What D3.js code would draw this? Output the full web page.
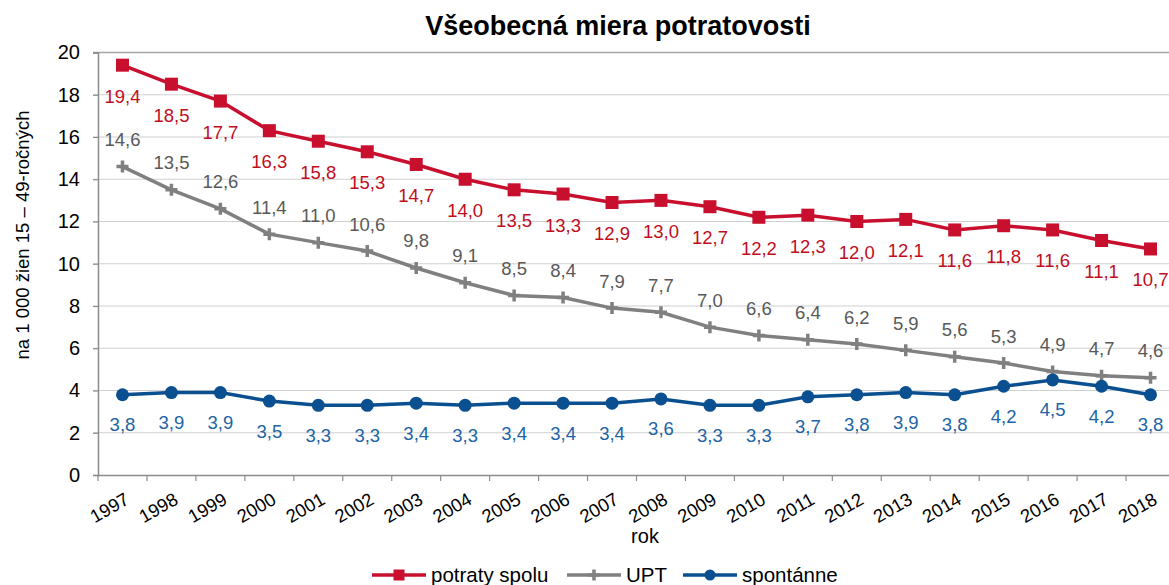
<!DOCTYPE html>
<html>
<head>
<meta charset="utf-8">
<script src="https://cdn.jsdelivr.net/npm/d3@7"></script>
<style>
  body { margin: 0; background: #fff; }
  svg { font-family: "Liberation Sans", Arial, sans-serif; }
</style>
</head>
<body>
<div class="chart"></div>
<script>
// DATA ------------------------------------**
const years = ['1997','1998','1999','2000','2001','2002','2003','2004','2005','2006','2007',
  '2008','2009','2010','2011','2012','2013','2014','2015','2016','2017','2018'];
const spolu = [19.4,18.5,17.7,16.3,15.8,15.3,14.7,14.0,13.5,13.3,12.9,13.0,12.7,12.2,12.3,12.0,12.1,11.6,11.8,11.6,11.1,10.7];
const upt = [14.6,13.5,12.6,11.4,11.0,10.6,9.8,9.1,8.5,8.4,7.9,7.7,7.0,6.6,6.4,6.2,5.9,5.6,5.3,4.9,4.7,4.6];
const spontanne = [3.8,3.9,3.9,3.5,3.3,3.3,3.4,3.3,3.4,3.4,3.4,3.6,3.3,3.3,3.7,3.8,3.9,3.8,4.2,4.5,4.2,3.8];
const yTicks = [0,2,4,6,8,10,12,14,16,18,20];

const series = [
  {name: 'potraty spolu', values: spolu, color: '#c8102e', label: '#c00d1e', marker: 'square', dy: 31},
  {name: 'UPT', values: upt, color: '#808080', label: '#595959', marker: 'plus', dy: -27},
  {name: 'spontánne', values: spontanne, color: '#0a4f8f', label: '#2064a6', marker: 'circle', dy: 30}
];

// CHART INIT ------------------------------**
const W = 1169, H = 585;
const margin = {top: 52.5, right: -6, bottom: 110, left: 98};
const width = W - margin.left - margin.right;
const height = H - margin.top - margin.bottom;

const svg = d3.select('.chart').append('svg')
  .attr('width', W)
  .attr('height', H);

const g = svg.append('g')
  .attr('transform', 'translate(' + margin.left + ',' + margin.top + ')');

const x = d3.scaleBand().domain(years).range([0, width]);
const y = d3.scaleLinear().domain([0, 20]).range([height, 0]);
const cx = d => x(d) + x.bandwidth() / 2;

// gridlines
g.append('g').selectAll('line')
  .data(yTicks.filter(t => t > 0))
  .join('line')
  .attr('x1', -5).attr('x2', width)
  .attr('y1', d => y(d)).attr('y2', d => y(d))
  .attr('stroke', d => d === 20 ? '#a6a6a6' : '#d0d0d0')
  .attr('stroke-width', d => d === 20 ? 1.5 : 1.2);

// y axis
const yAxis = d3.axisLeft(y).tickValues(yTicks).tickSize(5).tickPadding(13);
g.append('g').call(yAxis)
  .call(s => s.select('.domain').attr('stroke', '#8c8c8c').attr('stroke-width', 1.5))
  .call(s => s.selectAll('.tick line').attr('stroke', '#8c8c8c').attr('stroke-width', 1.2))
  .call(s => s.selectAll('text').attr('font-size', 20).attr('fill', '#000')
    .attr('font-family', '"Liberation Sans", Arial, sans-serif'));

// x axis
const xAxis = d3.axisBottom(x).tickSize(0).tickFormat(d => d);
const xg = g.append('g').attr('transform', 'translate(0,' + height + ')').call(xAxis);
xg.select('.domain').attr('stroke', '#8c8c8c').attr('stroke-width', 1.5);
xg.selectAll('.tick text')
  .attr('font-size', 18.5).attr('fill', '#000')
  .attr('font-family', '"Liberation Sans", Arial, sans-serif')
  .attr('text-anchor', 'end')
  .attr('y', 0)
  .attr('dy', 0)
  .attr('transform', 'translate(8,28) rotate(-30)');
// tick marks between categories
xg.append('g').selectAll('line')
  .data(d3.range(years.length + 1))
  .join('line')
  .attr('x1', i => i * x.step()).attr('x2', i => i * x.step())
  .attr('y1', 0).attr('y2', 6)
  .attr('stroke', '#8c8c8c').attr('stroke-width', 1.2);

// axis titles
svg.append('text')
  .attr('x', 618).attr('y', 35)
  .attr('text-anchor', 'middle')
  .attr('font-size', 27).attr('font-weight', 'bold')
  .text('Všeobecná miera potratovosti');

svg.append('text')
  .attr('transform', 'translate(29,235) rotate(-90)')
  .attr('text-anchor', 'middle')
  .attr('font-size', 18.5)
  .text('na 1 000 žien 15 – 49-ročných');

svg.append('text')
  .attr('x', 645).attr('y', 543)
  .attr('text-anchor', 'middle')
  .attr('font-size', 20)
  .text('rok');

// lines + markers
const line = d3.line().x((d, i) => cx(years[i])).y(d => y(d));

function drawMarker(sel, type, color, r) {
  if (type === 'square') {
    sel.append('rect').attr('x', -r).attr('y', -r).attr('width', 2 * r).attr('height', 2 * r).attr('fill', color);
  } else if (type === 'circle') {
    sel.append('circle').attr('r', r).attr('fill', color);
  } else {
    sel.append('path').attr('d', 'M' + (-r) + ',0H' + r + 'M0,' + (-r) + 'V' + r)
      .attr('stroke', color).attr('stroke-width', 3.5);
  }
}

series.forEach(s => {
  g.append('path')
    .datum(s.values)
    .attr('d', line)
    .attr('fill', 'none')
    .attr('stroke', s.color)
    .attr('stroke-width', 3.5);

  g.append('g').selectAll('g')
    .data(s.values)
    .join('g')
    .attr('transform', (d, i) => 'translate(' + cx(years[i]) + ',' + y(d) + ')')
    .each(function() { drawMarker(d3.select(this), s.marker, s.color, s.marker === 'plus' ? 6 : 6.5); });

  g.append('g').selectAll('text')
    .data(s.values)
    .join('text')
    .attr('x', (d, i) => cx(years[i]))
    .attr('y', d => y(d) + s.dy)
    .attr('dy', '0.35em')
    .attr('text-anchor', 'middle')
    .attr('font-size', 18.5)
    .attr('fill', s.label)
    .text(d => d3.format('.1f')(d).replace('.', ','));
});

// legend
const legendX = [372, 567, 683];
const legend = svg.append('g').attr('transform', 'translate(0,575)');
series.forEach((s, i) => {
  const lg = legend.append('g').attr('transform', 'translate(' + legendX[i] + ',0)');
  lg.append('line').attr('x1', 0).attr('x2', 54).attr('y1', 0).attr('y2', 0)
    .attr('stroke', s.color).attr('stroke-width', 3.5);
  drawMarker(lg.append('g').attr('transform', 'translate(27,0)'), s.marker, s.color, 5.5);
  lg.append('text').attr('x', 59).attr('y', 0).attr('dy', '0.35em')
    .attr('font-size', 20.5).text(s.name);
});
</script>
</body>
</html>
